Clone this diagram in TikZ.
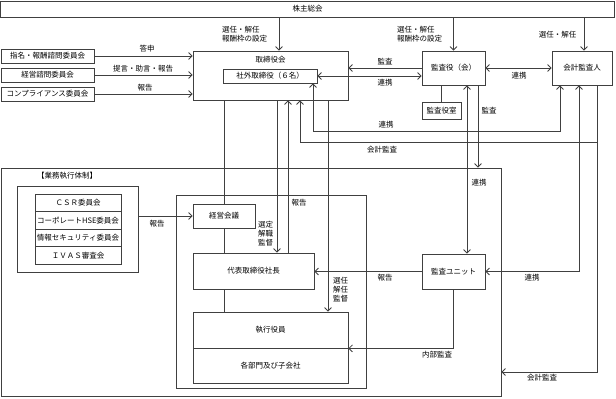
\documentclass[tikz,border=0pt]{standalone}
\usepackage{fontspec}
\setmainfont{Noto Sans CJK JP}
\usetikzlibrary{arrows.meta}
\begin{document}
\begin{tikzpicture}[x=1pt,y=-1pt,
  every node/.style={font=\fontsize{7.5}{9}\selectfont, text=black},
  box/.style={draw=black!75, line width=0.8pt, fill=white, inner sep=0pt},
  frm/.style={draw=black!75, line width=0.8pt, inner sep=0pt},
  ln/.style={draw=black!75, line width=0.8pt},
  arr/.style={ln, -{Straight Barb[length=3.5pt,width=7pt]}},
  arrtwo/.style={ln, {Straight Barb[length=3.5pt,width=7pt]}-{Straight Barb[length=3.5pt,width=7pt]}},
  lbl/.style={inner sep=0pt, align=center},
]
\useasboundingbox (0,0) rectangle (616,399);

% column / row helpers
\coordinate (cA) at (225,0);
\coordinate (cB) at (277,0);
\coordinate (cC) at (288,0);
\coordinate (cD) at (300,0);
\coordinate (cE) at (313,0);
\coordinate (cF) at (328,0);
\coordinate (cG) at (467,0);
\coordinate (cH) at (478,0);
\coordinate (cI) at (560,0);
\coordinate (cJ) at (579,0);
\coordinate (cK) at (597,0);
\coordinate (cL) at (279,0);
\coordinate (cN) at (584,0);
\coordinate (rC) at (0,131);
\coordinate (rD) at (0,142);
\coordinate (rE) at (0,372);

% frames
\node[frm, minimum width=500pt, minimum height=228pt] (frame) at (251,282) {};
\node[frm, minimum width=190pt, minimum height=193pt] (execframe) at (271,291.5) {};
\node[frm, minimum width=121pt, minimum height=86pt] (group) at (77.5,229) {};
\node[lbl] (framelbl) at (67,176) {【業務執行体制】};

% boxes
\node[box, minimum width=614pt, minimum height=16pt] (sh) at (307.5,9) {株主総会};
\node[box, minimum width=155pt, minimum height=49pt] (board) at (270.5,75.5) {};
\node[lbl] (boardlbl) at (270.5,60) {取締役会};
\node[box, minimum width=94pt, minimum height=14pt] (od) at (270,76) {社外取締役（６名）};
\node[box, minimum width=63pt, minimum height=34pt] (audit) at (453.5,68) {監査役（会）};
\node[box, minimum width=39pt, minimum height=17pt] (auditroom) at (441.5,110.5) {監査役室};
\node[box, minimum width=60pt, minimum height=34pt] (acc) at (582,68) {会計監査人};

\node[box, minimum width=93pt, minimum height=14pt] (c1) at (47.5,56) {指名・報酬諮問委員会};
\node[box, minimum width=93pt, minimum height=14pt] (c2) at (47.5,75) {経営諮問委員会};
\node[box, minimum width=93pt, minimum height=14pt] (c3) at (47.5,94) {コンプライアンス委員会};

\node[box, minimum width=86pt, minimum height=17.5pt] (g1) at (78,202.75) {ＣＳＲ委員会};
\node[box, minimum width=86pt, minimum height=17.5pt] (g2) at (78,220.25) {コーポレートHSE委員会};
\node[box, minimum width=86pt, minimum height=17.5pt] (g3) at (78,237.75) {情報セキュリティ委員会};
\node[box, minimum width=86pt, minimum height=17.5pt] (g4) at (78,255.25) {ＩＶＡＳ審査会};

\node[box, minimum width=62pt, minimum height=24pt] (mtg) at (224,216) {経営会議};
\node[box, minimum width=121pt, minimum height=36pt] (pres) at (253.5,271) {代表取締役社長};
\node[box, minimum width=155pt, minimum height=36pt] (exec) at (270.5,330) {執行役員};
\node[box, minimum width=155pt, minimum height=35pt] (dept) at (270.5,365.5) {各部門及び子会社};
\node[box, minimum width=63pt, minimum height=35pt] (unit) at (453.5,271.5) {監査ユニット};

% connectors from shareholders
\draw[arr] (cL |- sh.south) -- (cL |- board.north);
\draw[arr] (audit.north |- sh.south) -- (audit.north);
\draw[arr] (cN |- sh.south) -- (cN |- acc.north);

% committees to board
\draw[arr] (c1.east) -- (c1.east -| board.west);
\draw[arr] (c2.east) -- (c2.east -| board.west);
\draw[arr] (c3.east) -- (c3.east -| board.west);

% board <-> audit
\draw[arr] (audit.west) -- (audit.west -| board.east);
\draw[arrtwo] (od.east) -- (od.east -| audit.west);
\draw[arrtwo] (audit.east) -- (acc.west);
\draw[ln] (auditroom.north) -- (auditroom.north |- audit.south);

% outside directors <-> accounting auditor
\draw[arrtwo] (cE |- od.south) -- (cE |- rC) -- (cI |- rC) -- (cI |- acc.south);

% accounting audit
\draw[arr] (cK |- acc.south) -- (cK |- rE) -- (frame.east |- rE);
\draw[arr] (cK |- rD) -- (cD |- rD) -- (cD |- board.south);

% board / execution
\draw[ln] (mtg.north |- board.south) -- (mtg.north);
\draw[ln] (mtg.south) -- (mtg.south |- pres.north);
\draw[ln] (mtg.south |- pres.south) -- (mtg.south |- exec.north);
\draw[arr] (cB |- board.south) -- (cB |- pres.north);
\draw[arr] (cC |- pres.north) -- (cC |- board.south);
\draw[arr] (cF |- board.south) -- (cF |- exec.north);
\draw[arr] (group.east |- mtg.west) -- (mtg.west);

% audit side
\draw[arr] (cH |- audit.south) -- (cH |- frame.north);
\draw[arrtwo] (cG |- audit.south) -- (cG |- unit.north);
\draw[arr] (unit.west) -- (unit.west -| pres.east);
\draw[arrtwo] (cJ |- acc.south) -- (cJ |- unit.east) -- (unit.east);
\draw[arr] (unit.south) -- (unit.south |- exec.south) -- (exec.south east);

% labels
\node[lbl, anchor=north west, align=left] (l1) at (222,26) {選任・解任\\報酬枠の設定};
\node[lbl, anchor=north west, align=left] (l2) at (397,26) {選任・解任\\報酬枠の設定};
\node[lbl] (l3) at (557.5,35) {選任・解任};
\node[lbl] (l4) at (147,49) {答申};
\node[lbl] (l5) at (143,69) {提言・助言・報告};
\node[lbl] (l6) at (145,88) {報告};
\node[lbl] (l7) at (385,62) {監査};
\node[lbl] (l8) at (385,83) {連携};
\node[lbl] (l9) at (519,76) {連携};
\node[lbl] (l10) at (489,111) {監査};
\node[lbl] (l11) at (386,125) {連携};
\node[lbl] (l12) at (382,150) {会計監査};
\node[lbl] (l13) at (479,183) {連携};
\node[lbl] (l14) at (299,203) {報告};
\node[lbl] (l15) at (265.5,233.5) {選定\\解職\\監督};
\node[lbl] (l16) at (340.5,290) {選任\\解任\\監督};
\node[lbl] (l17) at (385,278) {報告};
\node[lbl] (l18) at (532,278) {連携};
\node[lbl] (l19) at (437,355) {内部監査};
\node[lbl] (l20) at (542,378) {会計監査};
\node[lbl] (l21) at (157,224) {報告};
\end{tikzpicture}
\end{document}
